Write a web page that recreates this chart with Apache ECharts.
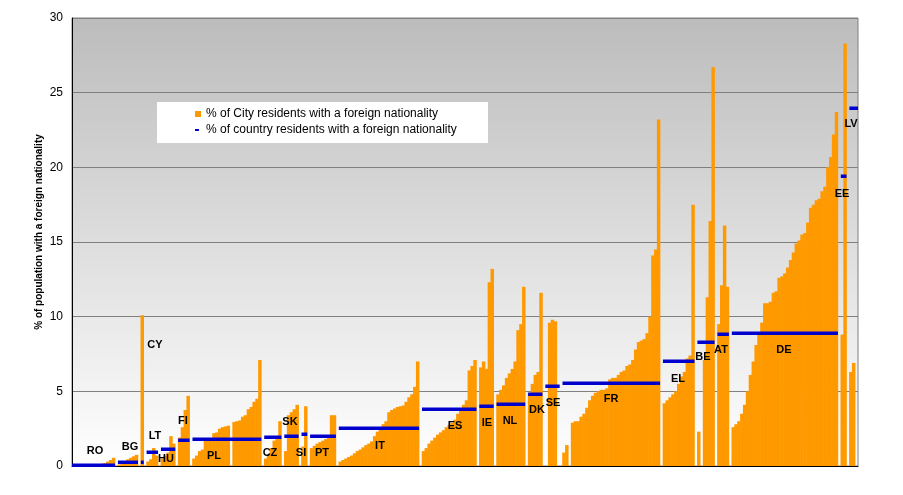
<!DOCTYPE html>
<html><head><meta charset="utf-8">
<script src="https://cdn.jsdelivr.net/npm/echarts@6/dist/echarts.min.js"></script>
<style>html,body{margin:0;padding:0;background:#fff}#c{width:903px;height:495px}</style>
</head><body><div id="c"></div>
<script>
// ---- DATA ----
const countryCodes = ['RO','BG','CY','LT','HU','FI','PL','CZ','SK','SI','PT','IT','ES','IE','NL','DK','SE','FR','EL','BE','AT','DE','EE','LV'];
const countryShare = [0.1,0.3,0.3,0.96,1.15,1.75,1.8,1.96,2.0,2.15,2.0,2.55,3.8,4.0,4.15,4.8,5.36,5.55,7.0,8.3,8.85,8.9,19.4,24.0];
const RO = [0.02,0.03,0.03,0.04,0.05,0.05,0.06,0.07,0.08,0.1,0.15,0.2,0.3,0.4,0.55];
const BG = [0.1,0.2,0.3,0.45,0.55,0.65,0.75];
const CY = [10.1];
const LT = [0.3,0.45,1.2,0.7];
const HU = [0.5,0.7,0.9,2.0,1.5];
const FI = [1.9,2.6,3.75,4.7];
const PL = [0.5,0.7,1.0,1.1,1.7,1.8,1.85,2.2,2.25,2.5,2.6,2.65,2.7,null,2.95,3.0,3.05,3.3,3.4,3.8,3.95,4.3,4.5,7.1];
const CZ = [0.5,0.8,1.2,1.7,2.0,3.0];
const SK = [1.0,3.4,3.6,3.8,4.1];
const SI = [1.3,4.0];
const PT = [1.2,1.35,1.5,1.6,1.7,1.8,1.9,3.4,3.4];
const IT = [0.3,0.4,0.5,0.6,0.7,0.85,1.0,1.1,1.25,1.4,1.5,1.65,2.0,2.3,2.5,2.8,3.0,3.6,3.75,3.85,3.95,4.0,4.05,4.3,4.6,4.8,5.3,7.0];
const ES = [1.0,1.2,1.5,1.7,1.9,2.1,2.25,2.4,2.6,2.75,2.9,3.1,3.5,3.8,4.1,4.4,6.4,6.7,7.1];
const IE = [6.6,7.0,6.5,12.3,13.2];
const NL = [4.8,5.1,5.4,5.9,6.2,6.5,7.0,9.1,9.5,12.0];
const DK = [4.9,5.5,6.1,6.3,11.6];
const SE = [null,9.6,9.8,9.7,null];
const FR = [0.9,1.4,null,2.9,3.0,3.0,3.3,3.5,3.9,4.4,4.7,4.9,5.0,5.1,5.1,5.2,5.8,5.9,5.9,6.1,6.3,6.4,6.7,6.8,7.1,7.8,8.3,8.4,8.5,8.9,10.0,14.1,14.5,23.2];
const EL = [4.2,4.4,4.6,4.8,5.0,5.5,6.0,6.3,7.2,7.4,17.5];
const BE = [2.3,null,7.1,11.3,16.4,26.7];
const AT = [9.5,12.1,16.1,12.0];
const DE = [2.6,2.8,3.0,3.5,4.1,5.0,6.1,7.0,8.1,8.9,9.6,10.9,10.9,11.0,11.6,11.7,12.6,12.7,12.9,13.3,13.8,14.3,14.9,15.1,15.5,15.6,16.3,17.3,17.5,17.8,17.9,18.4,18.7,20.0,20.7,22.2,23.7];
const EE = [8.8,28.3];
const LV = [6.3,6.9,null];
const cityValues = {RO,BG,CY,LT,HU,FI,PL,CZ,SK,SI,PT,IT,ES,IE,NL,DK,SE,FR,EL,BE,AT,DE,EE,LV};
const yTicks = [0,5,10,15,20,25,30];
const seriesNames = ['% of City residents with a foreign nationality','% of country residents with a foreign nationality'];
const yTitle = '% of population with a foreign nationality';

// ---- LAYOUT (label anchor pixels) ----
const labelPos = {RO:[95,451],BG:[130,447],CY:[155,345],LT:[155,436],HU:[166,459],FI:[183,421],PL:[214,456],CZ:[270,453],
  SK:[290,422],SI:[301,453],PT:[322,453],IT:[380,446],ES:[455,426],IE:[487,423],NL:[510,421],DK:[537,410],SE:[553,403],
  FR:[611,399],EL:[678,379],BE:[703,357],AT:[721,350],DE:[784,350],EE:[842,194],LV:[851,124]};

// ---- BUILD ----
const cats = [], cityData = [], segments = [];
countryCodes.forEach((c, ci) => {
  const start = cats.length;
  cityValues[c].forEach((v, i) => { cats.push(c + '-' + (i + 1)); cityData.push(v); });
  segments.push([start, cats.length - 1, countryShare[ci]]);
  if (ci < countryCodes.length - 1) { cats.push('gap' + ci); cityData.push(null); }
});
const GL = 72, GR = 858, GT = 18, GB = 466;
const slotW = (GR - GL) / cats.length;

const chart = echarts.init(document.getElementById('c'));
const font = 'Liberation Sans, Arial, sans-serif';
const graphics = [
  {type:'rect', shape:{x:157, y:102, width:331, height:41}, style:{fill:'#fff'}, z:1},
  {type:'text', x:39, y:232, rotation:Math.PI/2, style:{text:yTitle, font:'bold 10px ' + font, fill:'#000', textAlign:'center', textVerticalAlign:'middle'}}
];
countryCodes.forEach(c => {
  const p = labelPos[c];
  graphics.push({type:'text', x:p[0], y:p[1], z:100, style:{text:c, font:'bold 11px ' + font, fill:'#000', textAlign:'center', textVerticalAlign:'middle'}});
});
chart.setOption({
  animation:false,
  backgroundColor:'#fff',
  textStyle:{fontFamily:font},
  grid:{left:GL, right:903-GR, top:GT, bottom:495-GB, show:true, borderColor:'#808080', borderWidth:1,
    backgroundColor:{type:'linear', x:0, y:0, x2:0, y2:1, colorStops:[{offset:0,color:'#bcbcbc'},{offset:1,color:'#ffffff'}]}},
  legend:[
    {data:[{name:seriesNames[0], icon:'rect'}], left:195, top:108, itemWidth:6, itemHeight:6, itemGap:5, padding:0, z:5,
     textStyle:{fontSize:12, color:'#000', fontFamily:font}},
    {data:[{name:seriesNames[1], icon:'rect'}], left:195, top:124, itemWidth:4, itemHeight:2, itemGap:5, padding:0, z:5,
     textStyle:{fontSize:12, color:'#000', fontFamily:font, padding:[0,0,0,2]}}
  ],
  xAxis:{type:'category', data:cats, boundaryGap:true, axisLine:{lineStyle:{color:'#000', width:1}}, axisTick:{show:false}, axisLabel:{show:false}, splitLine:{show:false}},
  yAxis:{type:'value', min:yTicks[0], max:yTicks[yTicks.length-1], interval:5,
    axisLine:{show:true, lineStyle:{color:'#000', width:1}}, axisTick:{show:false},
    axisLabel:{fontSize:12, color:'#000', margin:9, fontFamily:font},
    splitLine:{lineStyle:{color:'#808080', width:1}}},
  graphic:graphics,
  series:[
    {name:seriesNames[0], type:'bar', data:cityData, barWidth:slotW + 0.6, itemStyle:{color:'#FF9900'}, z:2},
    {name:seriesNames[1], type:'custom', data:segments, z:3, itemStyle:{color:'#0000CC'},
     encode:{x:[0,1], y:2},
     renderItem:function(params, api){
       const a = api.coord([api.value(0), api.value(2)]);
       const b = api.coord([api.value(1), api.value(2)]);
       const half = api.size([1, 0])[0] / 2;
       const y = Math.round(a[1]);
       return {type:'rect', shape:{x:a[0] - half, y:y - 1.5, width:b[0] - a[0] + 2 * half, height:3.5},
               style:{fill:'#0000CC'}};
     }}
  ]
});
</script></body></html>
